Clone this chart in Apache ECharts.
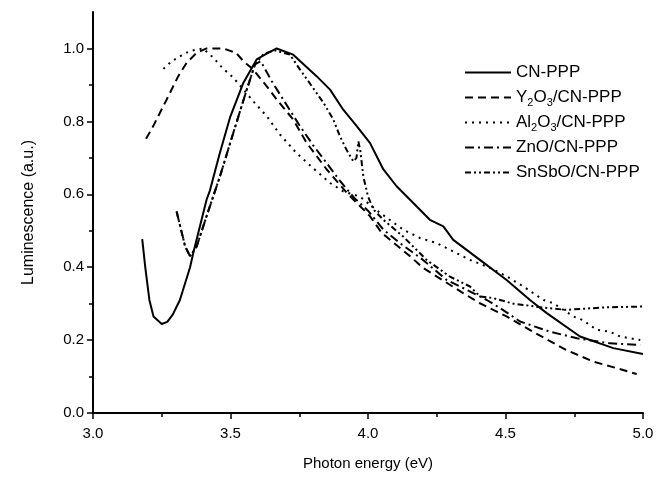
<!DOCTYPE html>
<html lang="en">
<head>
    <meta charset="UTF-8">
    <title>Luminescence</title>
    <script src="https://cdn.jsdelivr.net/npm/echarts@6/dist/echarts.min.js"></script>
    <style>
        body{
           margin: 0;
           background: #fff;
        }
        #main {
            width: 669px;
            height: 480px;
        }
    </style>
</head>
<body>
    <div id="main"></div>
    <script>
        var names = ['CN-PPP', 'Y2O3/CN-PPP', 'Al2O3/CN-PPP', 'ZnO/CN-PPP', 'SnSbO/CN-PPP']

        // photon energy (eV) / luminescence (a.u.)
        var cnX = [3.179, 3.19, 3.205, 3.22, 3.25, 3.27, 3.29, 3.316, 3.353, 3.365, 3.413, 3.425, 3.46, 3.498, 3.547, 3.595, 3.63, 3.668, 3.728, 3.813, 3.862, 3.91, 3.959, 4.007, 4.056, 4.104, 4.153, 4.225, 4.274, 4.31, 4.407, 4.504, 4.589, 4.65, 4.771, 4.892, 5.0]
        var cnY = [0.477, 0.40, 0.31, 0.265, 0.244, 0.25, 0.27, 0.31, 0.40, 0.44, 0.585, 0.61, 0.71, 0.81, 0.906, 0.97, 0.985, 1.0, 0.983, 0.924, 0.887, 0.832, 0.787, 0.741, 0.668, 0.622, 0.585, 0.53, 0.512, 0.475, 0.42, 0.365, 0.31, 0.274, 0.21, 0.178, 0.162]

        var yX = [3.193, 3.219, 3.268, 3.31, 3.34, 3.377, 3.413, 3.474, 3.52, 3.547, 3.583, 3.632, 3.668, 3.728, 3.777, 3.85, 3.923, 4.007, 4.05, 4.153, 4.2, 4.346, 4.407, 4.504, 4.6, 4.72, 4.82, 4.904, 4.977]
        var yY = [0.752, 0.787, 0.86, 0.924, 0.96, 0.988, 1.0, 1.0, 0.988, 0.965, 0.942, 0.896, 0.86, 0.805, 0.741, 0.668, 0.604, 0.54, 0.494, 0.43, 0.398, 0.329, 0.301, 0.265, 0.223, 0.173, 0.141, 0.123, 0.107]

        var alX = [3.256, 3.286, 3.322, 3.353, 3.40, 3.437, 3.474, 3.51, 3.583, 3.632, 3.68, 3.74, 3.8, 3.862, 3.91, 3.97, 4.044, 4.128, 4.189, 4.25, 4.31, 4.371, 4.444, 4.504, 4.565, 4.638, 4.674, 4.747, 4.783, 4.832, 4.88, 4.916, 4.99]
        var alY = [0.944, 0.965, 0.981, 0.993, 1.0, 0.975, 0.944, 0.92, 0.855, 0.814, 0.764, 0.713, 0.672, 0.631, 0.608, 0.594, 0.549, 0.503, 0.48, 0.466, 0.443, 0.42, 0.398, 0.375, 0.347, 0.31, 0.301, 0.265, 0.254, 0.228, 0.223, 0.21, 0.2]

        var znX = [3.304, 3.335, 3.353, 3.377, 3.413, 3.462, 3.51, 3.559, 3.589, 3.61, 3.65, 3.7, 3.75, 3.8, 3.85, 3.9, 3.95, 4.0, 4.056, 4.116, 4.2, 4.286, 4.359, 4.432, 4.48, 4.553, 4.662, 4.76, 4.88, 4.99]
        var znY = [0.553, 0.457, 0.43, 0.457, 0.54, 0.65, 0.768, 0.887, 0.956, 0.965, 0.91, 0.85, 0.79, 0.735, 0.685, 0.635, 0.59, 0.555, 0.503, 0.466, 0.42, 0.365, 0.338, 0.31, 0.288, 0.251, 0.223, 0.205, 0.191, 0.187]

        var snX = [3.304, 3.335, 3.353, 3.377, 3.413, 3.462, 3.51, 3.559, 3.589, 3.62, 3.66, 3.716, 3.753, 3.8, 3.838, 3.874, 3.898, 3.922, 3.947, 3.958, 3.965, 3.972, 3.983, 4.0, 4.02, 4.056, 4.128, 4.213, 4.298, 4.371, 4.407, 4.456, 4.528, 4.65, 4.72, 4.868, 5.0]
        var snY = [0.553, 0.457, 0.43, 0.457, 0.54, 0.65, 0.768, 0.887, 0.956, 0.985, 0.995, 0.983, 0.942, 0.892, 0.851, 0.805, 0.759, 0.722, 0.69, 0.70, 0.745, 0.72, 0.649, 0.594, 0.558, 0.53, 0.484, 0.42, 0.374, 0.347, 0.32, 0.315, 0.30, 0.288, 0.283, 0.29, 0.292]

        var yTicks = [0.0, 0.2, 0.4, 0.6, 0.8, 1.0]
        var yMinorTicks = [0.1, 0.3, 0.5, 0.7, 0.9]

        function pairs(xs, ys) {
            return xs.map(function(x, i) { return [x, ys[i]] })
        }

        var font = 'Liberation Sans, Arial, sans-serif'
        var dashes = ['solid', [8, 5], [2, 5], [9, 4, 2, 4], [6, 3, 2, 3, 2, 3]]
        var dataSets = [pairs(cnX, cnY), pairs(yX, yY), pairs(alX, alY), pairs(znX, znY), pairs(snX, snY)]

        var myChart = echarts.init(document.getElementById('main'))

        var series = names.map(function(n, i) {
            return {
                name: n,
                type: 'line',
                data: dataSets[i],
                symbol: 'none',
                smooth: false,
                lineStyle: { color: '#000', width: 2, type: dashes[i] },
                itemStyle: { color: '#000' }
            }
        })

        var legends = names.map(function(n, i) {
            return {
                data: [n],
                left: 459,
                top: 59 + i * 25,
                itemWidth: 46,
                itemHeight: 14,
                itemGap: 0,
                itemStyle: { opacity: 0, borderWidth: 0 },
                formatter: function(name) {
                    return name.replace(/(\d)/g, '{sub|$1}')
                },
                textStyle: {
                    fontFamily: font,
                    fontSize: 17,
                    color: '#000',
                    rich: {
                        sub: { fontFamily: font, fontSize: 11, color: '#000', padding: [10, 0, 0, 0], verticalAlign: 'bottom' }
                    }
                }
            }
        })

        var option = {
            backgroundColor: '#fff',
            animation: false,
            grid: { left: 93, right: 26, top: 12, bottom: 67 },
            legend: legends,
            xAxis: {
                type: 'value',
                min: 3.0,
                max: 5.0,
                interval: 0.5,
                name: 'Photon energy (eV)',
                nameLocation: 'middle',
                nameGap: 43,
                nameTextStyle: { fontFamily: font, fontSize: 15, color: '#000' },
                axisLine: { lineStyle: { color: '#000', width: 2 } },
                axisTick: { length: 6, lineStyle: { color: '#000', width: 1.5 } },
                minorTick: { show: true, splitNumber: 2, length: 4, lineStyle: { color: '#000', width: 1.5 } },
                splitLine: { show: false },
                axisLabel: {
                    margin: 13,
                    fontFamily: font,
                    fontSize: 15,
                    color: '#000',
                    formatter: function(v) { return v.toFixed(1) }
                }
            },
            yAxis: [{
                type: 'value',
                position: 'left',
                min: 0,
                max: 1.1,
                interval: 0.2,
                name: 'Luminescence (a.u.)',
                nameLocation: 'middle',
                nameGap: 56,
                nameTextStyle: { fontFamily: font, fontSize: 16, color: '#000' },
                axisLine: { show: true, lineStyle: { color: '#000', width: 2 } },
                axisTick: { length: 6, customValues: yTicks, lineStyle: { color: '#000', width: 1.5 } },
                splitLine: { show: false },
                axisLabel: {
                    margin: 9,
                    fontFamily: font,
                    fontSize: 15,
                    color: '#000',
                    customValues: yTicks,
                    formatter: function(v) { return v.toFixed(1) }
                }
            }, {
                // minor ticks only
                type: 'value',
                position: 'left',
                min: 0,
                max: 1.1,
                interval: 0.1,
                axisLine: { show: false },
                axisTick: { show: true, length: 4, customValues: yMinorTicks, lineStyle: { color: '#000', width: 1.5 } },
                axisLabel: { show: false },
                splitLine: { show: false }
            }],
            series: series
        }
        myChart.setOption(option)
    </script>
</body>
</html>
